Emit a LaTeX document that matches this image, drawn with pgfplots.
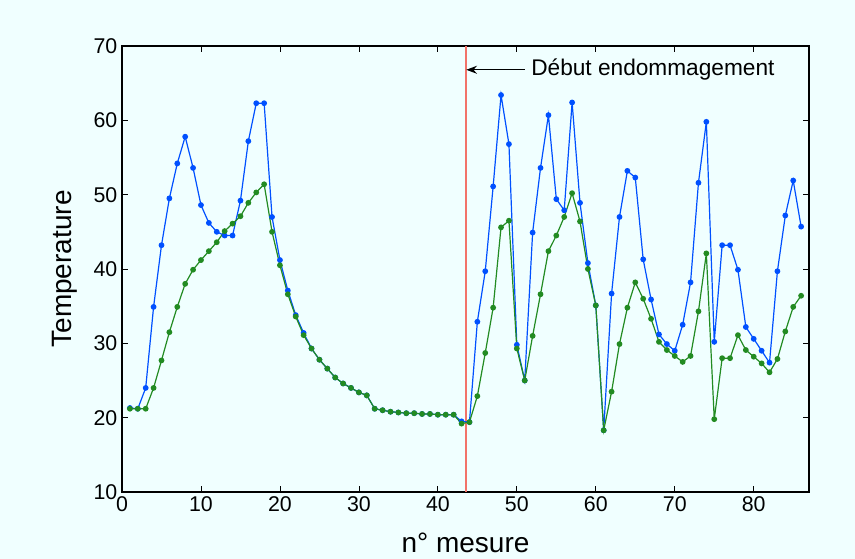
\documentclass[border=0pt]{standalone}
\usepackage{pgfplots}
\pgfplotsset{compat=1.18}
\usepackage{pgfplotstable}
\usetikzlibrary{arrows.meta}
\usepackage{fontspec}
\setmainfont{Liberation Sans}
\definecolor{bg}{RGB}{240,255,255}
\definecolor{mblue}{RGB}{0,80,255}
\definecolor{mgreen}{RGB}{34,139,34}
\pgfplotstableread{
n b g
1 21.3 21.2
2 21.2 21.2
3 24.0 21.2
4 34.9 24.0
5 43.2 27.7
6 49.5 31.5
7 54.2 34.9
8 57.8 38.0
9 53.6 39.9
10 48.6 41.2
11 46.2 42.4
12 45.0 43.6
13 44.5 45.1
14 44.5 46.1
15 49.2 47.1
16 57.2 48.9
17 62.3 50.3
18 62.3 51.4
19 47.0 45.0
20 41.2 40.5
21 37.1 36.6
22 33.8 33.6
23 31.4 31.1
24 29.3 29.3
25 27.8 27.8
26 26.6 26.6
27 25.4 25.4
28 24.6 24.6
29 24.0 24.0
30 23.4 23.4
31 23.0 23.0
32 21.2 21.2
33 21.0 21.0
34 20.8 20.8
35 20.7 20.7
36 20.6 20.6
37 20.6 20.6
38 20.5 20.5
39 20.5 20.5
40 20.4 20.4
41 20.4 20.4
42 20.4 20.4
43 19.5 19.2
44 19.4 19.4
45 32.9 22.9
46 39.7 28.7
47 51.1 34.8
48 63.4 45.6
49 56.8 46.5
50 29.8 29.3
51 25.0 25.0
52 44.9 31.0
53 53.6 36.6
54 60.7 42.4
55 49.4 44.5
56 47.9 47.0
57 62.4 50.2
58 48.9 46.4
59 40.8 40.0
60 35.1 35.1
61 18.3 18.3
62 36.7 23.5
63 47.0 29.9
64 53.2 34.8
65 52.3 38.2
66 41.3 36.0
67 35.9 33.3
68 31.2 30.2
69 29.9 29.1
70 29.0 28.3
71 32.5 27.5
72 38.2 28.3
73 51.6 34.3
74 59.8 42.1
75 30.2 19.8
76 43.2 28.0
77 43.2 28.0
78 39.9 31.1
79 32.2 29.1
80 30.6 28.2
81 29.0 27.3
82 27.4 26.1
83 39.7 27.9
84 47.2 31.6
85 51.9 34.9
86 45.7 36.4
}\data
\pgfplotstableread{
x y
43.5 10
43.5 70
}\onsetline
\begin{document}
\begin{tikzpicture}
\fill[bg] (0,0) rectangle (641.25pt,419.25pt);
\begin{axis}[
  at={(91.5pt,50.25pt)}, anchor=south west,
  scale only axis, width=515.25pt, height=334.5pt,
  xmin=0, xmax=87, ymin=10, ymax=70,
  xtick={0,10,...,80}, ytick={10,20,...,70},
  tick align=inside, major tick length=4.5pt,
  tick style={black, line width=0.6pt},
  axis line style={black, line width=1pt},
  axis background/.style={fill=bg},
  /pgf/number format/assume math mode=true,
  tick label style={font=\fontsize{16}{18}\selectfont},
  label style={font=\fontsize{21}{24}\selectfont},
  xlabel={n° mesure}, ylabel={Temperature},
  xlabel style={yshift=-9pt},
  ylabel style={yshift=5pt},
  clip=false,
]
\addplot[draw={rgb,255:red,242;green,115;blue,105}, line width=1.5pt, mark=none] table[x=x,y=y] {\onsetline};
\addplot[mblue, line width=0.9pt, mark=*, mark size=1.7pt] table[x=n,y=b] {\data};
\addplot[mgreen, line width=0.9pt, mark=*, mark size=1.7pt] table[x=n,y=g] {\data};
\draw[black, line width=0.8pt, -{Stealth[length=8pt,width=6pt]}] (axis cs:51.0,66.8) -- (axis cs:43.6,66.8);
\node[anchor=west, inner sep=0pt, font=\fontsize{17}{20}\selectfont] at (axis cs:51.8,66.8) {Début endommagement};
\end{axis}
\end{tikzpicture}
\end{document}
